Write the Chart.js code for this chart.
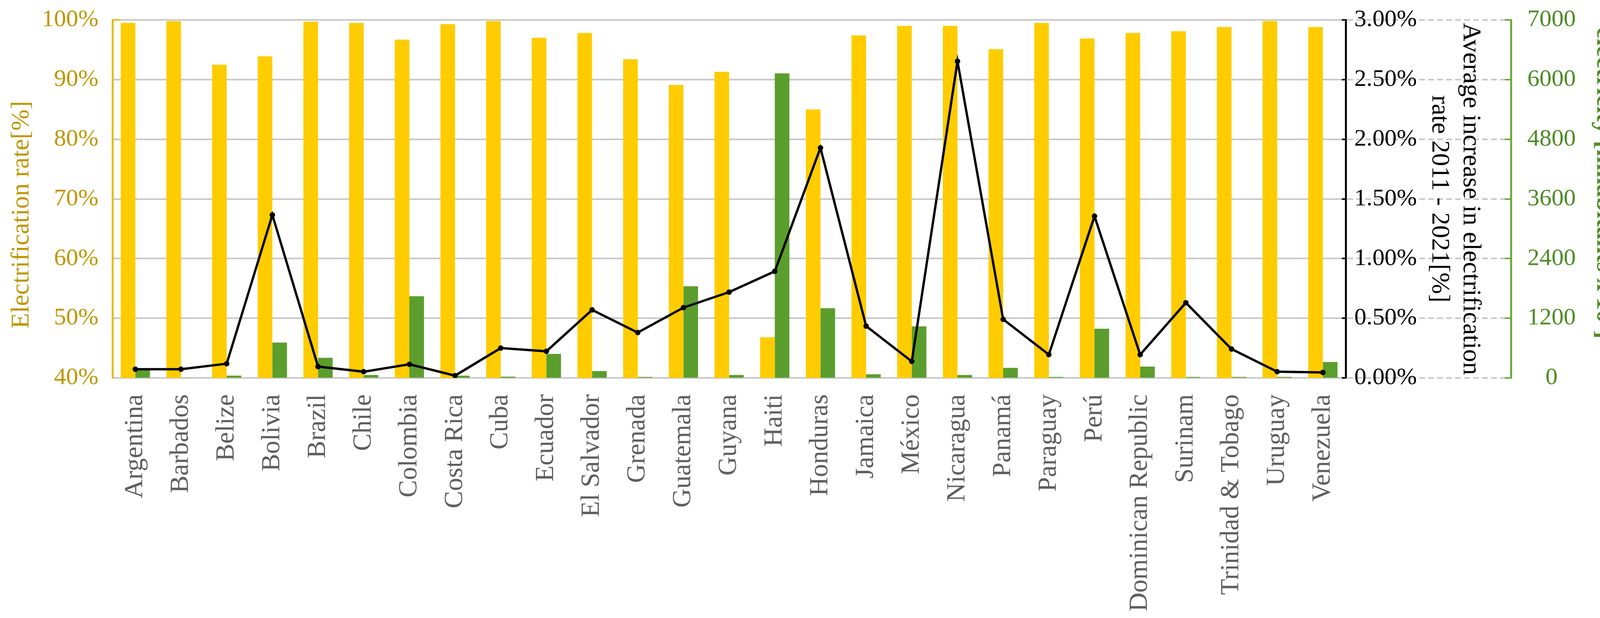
<!DOCTYPE html>
<html>
<head>
<meta charset="utf-8">
<script src="https://cdn.jsdelivr.net/npm/chart.js@4.4.1/dist/chart.umd.min.js"></script>
<style>
  html, body { margin: 0; padding: 0; background: #ffffff; }
  #wrap { width: 4234px; height: 1583px; position: relative; }
</style>
</head>
<body>
<div id="wrap"><canvas id="c"></canvas></div>
<script>
const countries = ["Argentina","Barbados","Belize","Bolivia","Brazil","Chile","Colombia","Costa Rica","Cuba","Ecuador","El Salvador","Grenada","Guatemala","Guyana","Haiti","Honduras","Jamaica","México","Nicaragua","Panamá","Paraguay","Perú","Dominican Republic","Surinam","Trinidad & Tobago","Uruguay","Venezuela"];
const electrificationRate = [99.5,99.8,92.5,93.9,99.7,99.5,96.7,99.3,99.8,97.0,97.8,93.4,89.1,91.3,46.8,85.0,97.4,99.0,99.0,95.1,99.5,96.9,97.8,98.1,98.8,99.8,98.8];
const populationWithout = [176,5,46,710,404,59,1642,46,26,482,137,20,1844,59,6125,1401,72,1036,59,202,20,990,228,20,20,20,319];
const avgIncrease = [0.073,0.073,0.119,1.366,0.095,0.052,0.114,0.019,0.250,0.223,0.570,0.380,0.589,0.719,0.893,1.928,0.434,0.138,2.653,0.491,0.195,1.355,0.195,0.630,0.242,0.052,0.046];
const greenTickLabels = ["0","1200","2400","3600","4800","6000","7000"];

const SERIF = "'Liberation Serif', 'Times New Roman', serif";
const GOLD = '#BF9600';
const GOLD_AXIS = '#E6BC14';
const GREEN_TXT = '#4E8C25';
const GREEN_BAR = '#5B9E2D';
const GREEN_AXIS = '#6AAA3C';
const YELLOW = '#FFCC00';
const GRID = '#C8C8C8';

const extras = {
  id: 'extras',
  beforeDraw(chart) {
    const { ctx, scales } = chart;
    const y2 = scales.y2, y3 = scales.y3;
    ctx.save();
    ctx.strokeStyle = GRID;
    ctx.lineWidth = 4;
    ctx.setLineDash([15, 8]);
    y3.ticks.forEach((t, i) => {
      const py = Math.round(y3.getPixelForTick(i));
      ctx.beginPath();
      ctx.moveTo(y2.left + 4, py);
      ctx.lineTo(y3.left - 2, py);
      ctx.stroke();
    });
    ctx.restore();
  },
  afterDraw(chart) {
    const { ctx, scales } = chart;
    const y = scales.y, y2 = scales.y2, y3 = scales.y3;
    ctx.save();
    ctx.lineWidth = 4;
    ctx.strokeStyle = '#000000';
    y2.ticks.forEach((t, i) => {
      const py = Math.round(y2.getPixelForTick(i));
      ctx.beginPath();
      ctx.moveTo(y2.left - 10, py);
      ctx.lineTo(y2.left + 2, py);
      ctx.stroke();
    });
    ctx.strokeStyle = GREEN_AXIS;
    y3.ticks.forEach((t, i) => {
      const py = Math.round(y3.getPixelForTick(i));
      ctx.beginPath();
      ctx.moveTo(y3.left - 16, py);
      ctx.lineTo(y3.left + 2, py);
      ctx.stroke();
    });
    // small gold tick at the top of the left axis
    ctx.strokeStyle = GOLD_AXIS;
    const pt = Math.round(y.getPixelForValue(y.max));
    ctx.beginPath();
    ctx.moveTo(y.right - 2, pt);
    ctx.lineTo(y.right + 20, pt);
    ctx.stroke();
    ctx.restore();
  }
};

new Chart(document.getElementById('c'), {
  type: 'bar',
  data: {
    labels: countries,
    datasets: [
      { label: 'Electrification rate', data: electrificationRate, backgroundColor: YELLOW, yAxisID: 'y', categoryPercentage: 0.64, barPercentage: 1.0, order: 1 },
      { label: 'Population without access', data: populationWithout, backgroundColor: GREEN_BAR, yAxisID: 'y3', categoryPercentage: 0.64, barPercentage: 1.0, order: 1 },
      { type: 'line', label: 'Average increase', data: avgIncrease, yAxisID: 'y2', borderColor: '#000000', backgroundColor: '#000000', borderWidth: 6, pointRadius: 7, pointBackgroundColor: '#000000', pointBorderWidth: 0, tension: 0, order: -1 }
    ]
  },
  options: {
    responsive: true,
    maintainAspectRatio: false,
    devicePixelRatio: 1,
    animation: false,
    layout: { padding: { top: 51, left: 0, right: 0, bottom: 0 } },
    plugins: { legend: { display: false }, tooltip: { enabled: false } },
    scales: {
      x: {
        offset: true,
        grid: { display: false, drawTicks: false },
        border: { display: false },
        ticks: { autoSkip: false, maxRotation: 90, minRotation: 90, padding: 42, color: '#5F5F5F', font: { family: SERIF, size: 67 } },
        afterFit(s) { s.height = 615; }
      },
      y: {
        position: 'left', min: 40, max: 100,
        ticks: { stepSize: 10, padding: 36, color: GOLD, font: { family: SERIF, size: 62, lineHeight: 0.45 }, callback: v => v + '%' },
        grid: { color: GRID, lineWidth: 4, drawTicks: false },
        border: { display: true, color: GOLD_AXIS, width: 5 },
        title: { display: true, text: 'Electrification rate[%]     ', color: GOLD, font: { family: SERIF, size: 65, lineHeight: 1.2 }, padding: { top: 17, bottom: 0 } },
        afterFit(s) { s.width = 288; }
      },
      y2: {
        position: 'right', weight: 0, min: 0, max: 3,
        ticks: { stepSize: 0.5, padding: 22, color: '#000000', font: { family: SERIF, size: 62, lineHeight: 0.9 }, callback: v => v.toFixed(2) + '%' },
        grid: { drawOnChartArea: false, drawTicks: false },
        border: { display: true, color: '#000000', width: 5 },
        title: { display: true, text: ['Average increase in electrification', 'rate 2011 - 2021[%]'], color: '#000000', font: { family: SERIF, size: 66, lineHeight: 1.21 }, padding: { top: 64, bottom: 0 } },
        afterFit(s) { s.width = 423; }
      },
      y3: {
        position: 'right', weight: 1, min: 0, max: 7200,
        ticks: { stepSize: 1200, padding: 42, color: GREEN_TXT, crossAlign: 'center', font: { family: SERIF, size: 62, lineHeight: 0.28 }, callback: (v, i) => greenTickLabels[i] },
        grid: { drawOnChartArea: false, drawTicks: false },
        border: { display: true, color: GREEN_AXIS, width: 5 },
        title: { display: true, text: ['Population without access to    ', 'electricity [inhabitants x 10\u00B3]     '], color: GREEN_TXT, font: { family: SERIF, size: 65, weight: 'bold', lineHeight: 1.2 }, padding: { top: 11, bottom: 0 } },
        afterFit(s) { s.width = 366; }
      }
    }
  },
  plugins: [extras]
});
</script>
</body>
</html>
